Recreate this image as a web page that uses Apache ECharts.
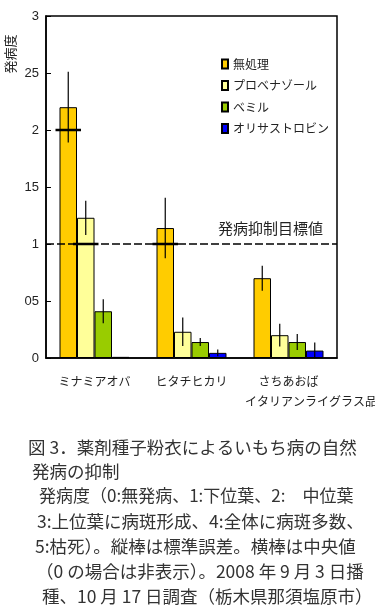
<!DOCTYPE html>
<html><head><meta charset="utf-8">
<script src="https://cdn.jsdelivr.net/npm/echarts@6/dist/echarts.min.js"></script>
<style>html,body{margin:0;padding:0;background:#fff}#c{width:375px;height:608px}</style>
</head><body><div id="c"></div>
<script>
const categories = ['ミナミアオバ', 'ヒタチヒカリ', 'さちあおば'];
const seriesNames = ['無処理', 'プロベナゾール', 'ベミル', 'オリサストロビン'];
const mukouri = [2.20, 1.14, 0.70];
const probenazole = [1.23, 0.23, 0.20];
const bemiru = [0.41, 0.14, 0.14];
const orysastrobin = [0.01, 0.045, 0.065];
const seMukouri = [0.31, 0.265, 0.11];
const seProbenazole = [0.15, 0.125, 0.10];
const seBemiru = [0.105, 0.035, 0.07];
const seOrysastrobin = [0, 0.03, 0.07];
const medMukouri = [2.0, 1.0, 0];
const medProbenazole = [1.0, 0, 0];
const medBemiru = [0, 0, 0];
const medOrysastrobin = [0, 0, 0];
const yTicks = ['0', '05', '1', '15', '2', '25', '3'];
const targetValue = 1;
const targetLabel = '発病抑制目標値';
const groupLabel = 'イタリアンライグラス品種';
const yTitle = '発病度';
const captionLines = [
  '図 3．薬剤種子粉衣によるいもち病の自然',
  '発病の抑制',
  '発病度（0:無発病、1:下位葉、2:　中位葉',
  '3:上位葉に病斑形成、4:全体に病斑多数、',
  '5:枯死）。縦棒は標準誤差。横棒は中央値',
  '（0 の場合は非表示）。2008 年 9 月 3 日播',
  '種、10 月 17 日調査（栃木県那須塩原市）'
];

const values = [mukouri, probenazole, bemiru, orysastrobin];
const ses = [seMukouri, seProbenazole, seBemiru, seOrysastrobin];
const meds = [medMukouri, medProbenazole, medBemiru, medOrysastrobin];
const colors = ['#FFCC00', '#FFFF99', '#99CC00', '#0000FF'];
const BW = 17.5;
const FONT = "'Liberation Sans', Arial, 'Noto Sans CJK JP', sans-serif";
const JFONT = "'Noto Sans CJK JP', sans-serif";

const errData = [];
const medData = [];
values.forEach((arr, s) => {
  arr.forEach((v, c) => {
    if (ses[s][c] > 0) errData.push([c, v - ses[s][c], v + ses[s][c], s]);
    if (meds[s][c] > 0) medData.push([c, meds[s][c], s]);
  });
});

const barSeries = values.map((arr, s) => {
  const o = {
    name: seriesNames[s], type: 'bar', data: arr, barWidth: BW, barGap: '0%',
    itemStyle: { color: colors[s], borderColor: '#000', borderWidth: 1 },
    emphasis: { disabled: true }, z: 2
  };
  if (s === 0) {
    o.markLine = {
      silent: true, symbol: 'none',
      lineStyle: { color: '#000', width: 1.5, type: [8, 3] },
      data: [{ yAxis: targetValue }],
      label: { show: true, formatter: targetLabel, position: 'insideEndTop', distance: [14, 8],
        color: '#222', fontSize: 15, fontFamily: JFONT }
    };
  }
  return o;
});

const chart = echarts.init(document.getElementById('c'));
chart.setOption({
  animation: false,
  textStyle: { fontFamily: FONT },
  grid: { left: 46, top: 16, width: 291, height: 342, show: true, borderColor: '#000', borderWidth: 1.5, backgroundColor: 'transparent' },
  legend: {
    orient: 'vertical', left: 216, top: 53, itemWidth: 6, itemHeight: 9, itemGap: 9.5, icon: 'rect',
    selectedMode: false,
    textStyle: { fontSize: 12, color: '#222', fontFamily: JFONT },
    data: seriesNames
  },
  xAxis: {
    type: 'category', data: categories,
    axisLine: { lineStyle: { color: '#000', width: 1.5 } },
    axisTick: { inside: true, length: 6, lineStyle: { color: '#000' } },
    axisLabel: { color: '#222', fontSize: 12, margin: 17, fontFamily: JFONT }
  },
  yAxis: {
    type: 'value', min: 0, max: 3, interval: 0.5,
    splitLine: { show: false },
    axisLine: { show: true, lineStyle: { color: '#000', width: 1.5 } },
    axisTick: { show: true, inside: true, length: 5, lineStyle: { color: '#000' } },
    axisLabel: { color: '#222', fontSize: 13, margin: 7, formatter: (v) => yTicks[Math.round(v * 2)] }
  },
  series: barSeries.concat([
    {
      type: 'custom', data: errData, z: 5, silent: true,
      encode: { x: 0, y: [1, 2] },
      renderItem: (params, api) => {
        const c = api.value(0);
        const x = api.coord([c, 0])[0] + (api.value(3) - 1.5) * BW;
        const lo = api.coord([c, api.value(1)])[1];
        const hi = api.coord([c, api.value(2)])[1];
        return { type: 'line', shape: { x1: x, y1: lo, x2: x, y2: hi }, style: { stroke: '#000', lineWidth: 1.2 } };
      }
    },
    {
      type: 'custom', data: medData, z: 6, silent: true,
      encode: { x: 0, y: 1 },
      renderItem: (params, api) => {
        const c = api.value(0);
        const x = api.coord([c, 0])[0] + (api.value(2) - 1.5) * BW;
        const y = api.coord([c, api.value(1)])[1];
        return { type: 'line', shape: { x1: x - BW / 2 - 4, y1: y, x2: x + BW / 2 + 4, y2: y }, style: { stroke: '#000', lineWidth: 2.5 } };
      }
    }
  ]),
  graphic: [
    { type: 'text', x: 10, y: 54, rotation: Math.PI / 2,
      style: { text: yTitle, fontSize: 13, fill: '#222', fontFamily: JFONT, align: 'center', verticalAlign: 'middle' } },
    { type: 'text', left: 245, top: 395,
      style: { text: groupLabel, fontSize: 12, fill: '#222', fontFamily: JFONT } }
  ].concat(captionLines.map((t, i) => ({
    type: 'text', x: [28, 32, 39, 37, 35, 36, 42][i], y: [447, 471, 496, 521, 546, 571, 596][i],
    style: { text: t, fontSize: i === 2 ? 17 : 17.5, fill: '#333', fontFamily: JFONT, verticalAlign: 'middle' }
  })))
});
</script></body></html>
